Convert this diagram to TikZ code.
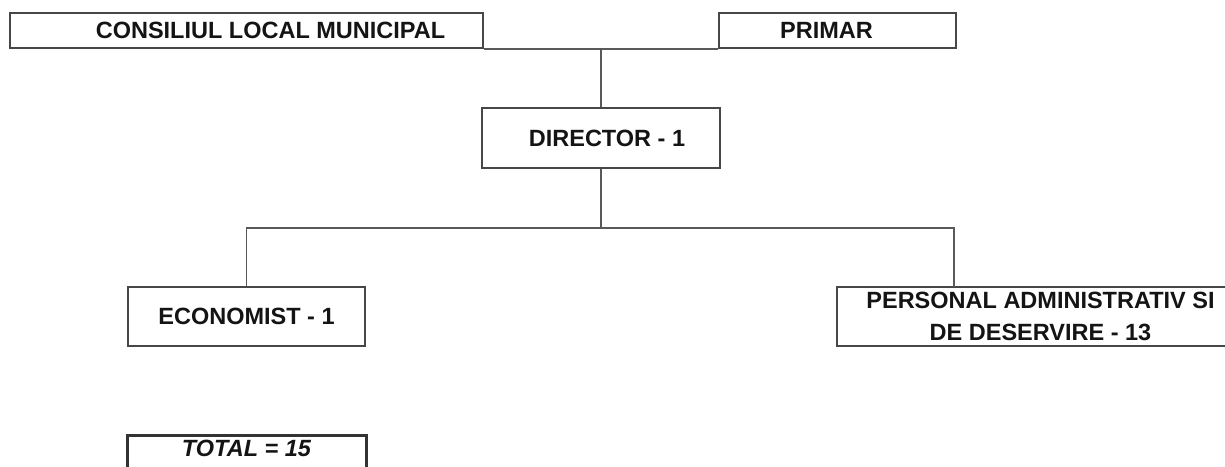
\documentclass[tikz,border=0pt]{standalone}
\usepackage{fontspec}
\setmainfont{Liberation Sans}
\begin{document}
\begin{tikzpicture}[
  box/.style={draw=black!72, line width=1.9pt, rectangle, inner sep=0pt,
    font=\fontsize{23.5}{32}\selectfont\bfseries, text=black!92, align=center},
  totalbox/.style={draw=black!80, line width=3pt, rectangle, inner sep=0pt,
    font=\fontsize{23.5}{32}\selectfont\bfseries\itshape, text=black!92},
  conn/.style={draw=black!65, line width=1.9pt}
]
\clip (0pt,0pt) rectangle (1225pt,-466pt);
\fill[white] (0pt,0pt) rectangle (1225pt,-466pt);

\node[box, minimum width=473pt, minimum height=35pt] (cons) at (246.5pt,-30.5pt)
  {\hspace*{48pt}CONSILIUL LOCAL MUNICIPAL};
\node[box, minimum width=237pt, minimum height=35pt] (prim) at (837.5pt,-30.5pt)
  {PRIMAR\hspace*{22pt}};
\node[box, minimum width=238pt, minimum height=60pt] (dir) at (601pt,-138pt)
  {\hspace*{12pt}DIRECTOR - 1};
\node[box, minimum width=237pt, minimum height=59pt] (eco) at (246.5pt,-316.5pt)
  {ECONOMIST - 1};
\node[box, minimum width=395pt, minimum height=59pt] (pers) at (1034.5pt,-316.5pt)
  {\hspace*{12pt}PERSONAL ADMINISTRATIV SI\\\hspace*{12pt}DE DESERVIRE - 13};
\node[totalbox, minimum width=239pt, minimum height=43pt, text depth=17pt] (tot) at (246.5pt,-456.5pt)
  {TOTAL = 15};

\coordinate (j1) at (dir.north |- cons.south);
\coordinate (j2) at (601pt,-228pt);
\coordinate (pj) at (954pt,-287pt);

\draw[conn] (cons.south east) -- (prim.south west);
\draw[conn] (j1) -- (dir.north);
\draw[conn] (dir.south) -- (j2);
\draw[conn] (eco.north) |- (j2) -| (pj);
\end{tikzpicture}
\end{document}
